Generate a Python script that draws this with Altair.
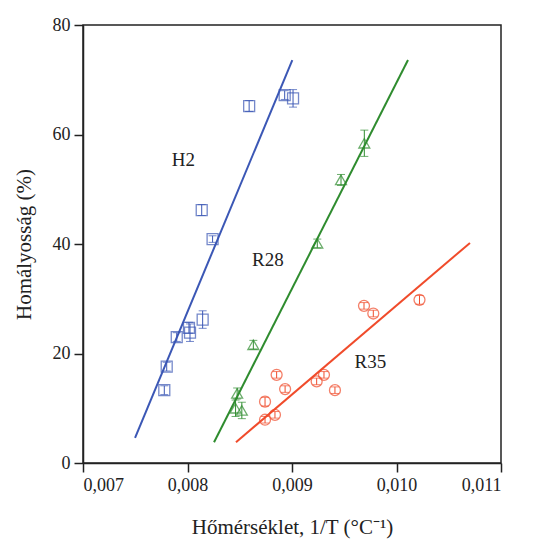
import altair as alt
import pandas as pd

# --- data ---
h2_x = [0.007778, 0.007801, 0.007897, 0.008014, 0.008024, 0.008145, 0.008136, 0.00824, 0.00859, 0.00893, 0.00901]
h2_y = [13.3, 17.6, 23.0, 24.7, 23.8, 26.2, 46.2, 40.9, 65.2, 67.2, 66.6]
h2_err = [0.8, 0.8, 0.8, 1.0, 1.6, 1.6, 1.0, 0.6, 1.0, 0.8, 1.6]

r28_x = [0.008475, 0.00846, 0.00852, 0.00863, 0.009242, 0.009469, 0.009692]
r28_y = [12.7, 10.0, 9.6, 21.6, 40.1, 51.7, 58.4]
r28_err = [1.0, 1.5, 1.5, 0.8, 0.8, 1.0, 2.4]

r35_x = [0.008742, 0.008837, 0.008742, 0.008853, 0.008934, 0.009236, 0.009306, 0.009411, 0.009689, 0.009778, 0.01022]
r35_y = [7.9, 8.8, 11.2, 16.1, 13.5, 14.9, 16.1, 13.3, 28.7, 27.3, 29.8]
r35_err = [0.6, 0.6, 0.8, 0.6, 0.6, 0.6, 0.6, 0.6, 0.6, 0.6, 0.8]

fit_series = ["H2", "H2", "R28", "R28", "R35", "R35"]
fit_x = [0.007498, 0.009003, 0.008254, 0.01011, 0.008464, 0.010703]
fit_y = [4.6, 73.6, 3.8, 73.6, 3.8, 40.2]

label_text = ["H2", "R28", "R35"]
label_x = [0.00796, 0.00877, 0.00975]
label_y = [55.3, 37.1, 18.4]

series = ["H2", "R28", "R35"]
colors = ["#3b57b5", "#2f8c2f", "#f04b2b"]
shapes = ["square", "triangle-up", "circle"]

x_ticks = [0.007, 0.008, 0.009, 0.010, 0.011]
y_ticks = [0, 20, 40, 60, 80]

rows = []
for name, xs, ys, es in [("H2", h2_x, h2_y, h2_err), ("R28", r28_x, r28_y, r28_err), ("R35", r35_x, r35_y, r35_err)]:
    for a, b, e in zip(xs, ys, es):
        rows.append({"s": name, "x": a, "y": b, "lo": b - e, "hi": b + e})
pts = pd.DataFrame(rows)
fit = pd.DataFrame({"s": fit_series, "x": fit_x, "y": fit_y})
labels = pd.DataFrame({"t": label_text, "x": label_x, "y": label_y})

FONT = "Liberation Serif"

xs = alt.Scale(domain=[0.007, 0.011], nice=False)
ys = alt.Scale(domain=[0, 80], nice=False)
col = alt.Color("s:N", scale=alt.Scale(domain=series, range=colors), legend=None)

x_enc = alt.X("x:Q", scale=xs, axis=alt.Axis(
    values=x_ticks, title="Hőmérséklet, 1/T  (°C⁻¹)",
    labelExpr="replace(format(datum.value, '.3f'), '.', ',')",
    grid=False, tickSize=9, labelPadding=4, titlePadding=22,
))
y_enc = alt.Y("y:Q", scale=ys, axis=alt.Axis(
    values=y_ticks, title="Homályosság (%)", grid=False, tickSize=9,
    labelPadding=4, titlePadding=18,
))

lines = alt.Chart(fit).mark_line(strokeWidth=2).encode(
    x=x_enc, y=y_enc, color=col, detail="s:N"
)

bars = alt.Chart(pts).mark_rule(strokeWidth=1).encode(
    x="x:Q", y="lo:Q", y2="hi:Q", color=col
)
cap_lo = alt.Chart(pts).mark_tick(orient="horizontal", size=8, thickness=1).encode(
    x="x:Q", y="lo:Q", color=col
)
cap_hi = alt.Chart(pts).mark_tick(orient="horizontal", size=8, thickness=1).encode(
    x="x:Q", y="hi:Q", color=col
)

points = alt.Chart(pts).mark_point(filled=False, size=120, strokeWidth=1.3).encode(
    x="x:Q", y="y:Q", color=col,
    shape=alt.Shape("s:N", scale=alt.Scale(domain=series, range=shapes), legend=None),
)

texts = alt.Chart(labels).mark_text(
    font=FONT, fontSize=19, color="#222222", align="center", baseline="middle"
).encode(x="x:Q", y="y:Q", text="t:N")

chart = alt.layer(lines, bars, cap_lo, cap_hi, points, texts).properties(
    width=418, height=438,
    background="white",
    autosize=alt.AutoSizeParams(type="none"),
    padding={"left": 83, "top": 25, "right": 50, "bottom": 81},
).configure_view(
    stroke="#222222", strokeWidth=1.5
).configure_axis(
    domainColor="#222222", domainWidth=1.5, tickColor="#222222", tickWidth=1.5,
    labelFont=FONT, labelFontSize=18, labelColor="#222222",
    titleFont=FONT, titleFontSize=21, titleFontWeight="normal", titleColor="#222222",
)

chart.save("out.html", embed_options={"renderer": "svg", "actions": False})
